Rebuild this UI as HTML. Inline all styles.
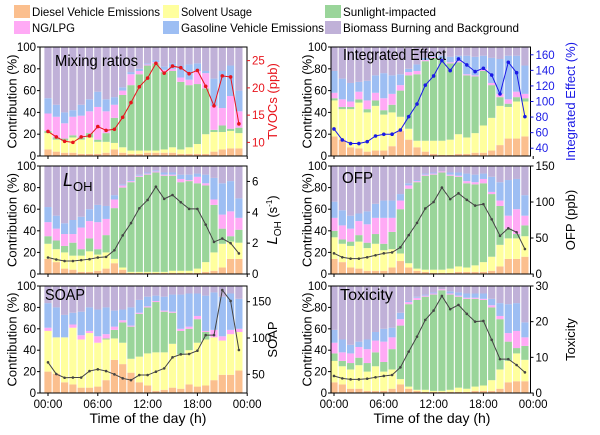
<!DOCTYPE html>
<html><head><meta charset="utf-8"><style>
body{margin:0;background:#fff}
svg{display:block;font-family:"Liberation Sans",Arial,sans-serif}
</style></head><body>
<svg id="chart" width="600" height="435" viewBox="0 0 600 435">
<g id="legend"></g>
<g id="panels"></g>
</svg>
<script>
const sources = ["Diesel Vehicle Emissions","Solvent Usage","Sunlight-impacted","NG/LPG","Gasoline Vehicle Emissions","Biomass Burning and Background"];
const colors = ["#FBBF8E","#FFFF9E","#9AD59A","#FFAAF5","#9DBEF3","#C0B1D8"];
const hours = [0,1,2,3,4,5,6,7,8,9,10,11,12,13,14,15,16,17,18,19,20,21,22,23];
const xTickLabels = ["00:00","06:00","12:00","18:00","00:00"];
const mixCum = [[6,21,23,39,53],[4,15,17,36,47],[3,14,16,30,40],[3,17,19,36,42],[2,15,17,37,47],[2,17,21,41,52],[2,13,15,45,59],[3,13,21,41,52],[6,12,35,47,54],[3,8,56,60,63],[2,5,65,75,77],[2,5,75,78,80],[3,5,83,84,85],[3,5,85,86,88],[3,6,77,79,82],[3,8,78,80,85],[2,6,68,72,83],[2,8,65,70,84],[2,11,66,78,85],[2,20,62,76,78],[4,22,24,46,71],[6,22,28,44,78],[7,23,25,55,83],[7,21,26,41,60]];
const ieCum = [[18,51,53,58,78],[15,43,45,52,71],[8,43,45,50,67],[7,49,52,59,68],[4,40,43,51,69],[5,46,51,58,74],[5,38,42,53,76],[9,40,47,57,74],[23,36,60,65,75],[15,25,74,77,80],[8,14,75,78,84],[4,14,87,88,90],[2,14,90,91,92],[1,14,88,89,92],[1,15,85,86,91],[2,20,86,87,92],[2,17,74,75,92],[3,21,73,74,91],[3,28,78,80,92],[5,35,65,67,90],[10,46,54,57,89],[16,45,48,52,92],[16,50,54,59,92],[18,50,53,57,83]];
const lohCum = [[14,28,35,48,62],[11,23,31,42,54],[5,20,26,37,47],[4,17,29,37,50],[2,17,23,43,53],[2,21,33,49,60],[3,18,23,48,64],[5,20,36,51,63],[10,14,61,69,73],[4,6,80,82,83],[1,2,85,86,87],[1,2,90,91,92],[1,2,92,93,94],[1,2,94,95,96],[1,2,91,92,94],[1,3,91,92,94],[1,3,85,88,92],[1,3,86,87,92],[1,5,84,90,93],[2,11,82,84,92],[3,20,64,69,89],[6,28,42,55,84],[14,30,35,58,86],[14,29,41,52,70]];
const ofpCum = [[14,34,40,52,67],[11,28,32,45,59],[6,26,30,42,54],[5,30,36,49,56],[3,24,29,46,58],[3,28,37,52,65],[3,22,28,52,68],[6,23,39,52,68],[12,19,60,68,74],[6,10,79,82,84],[3,5,85,86,87],[2,4,91,92,93],[1,4,92,93,94],[1,4,94,95,95],[1,5,91,92,94],[2,7,90,91,94],[2,6,84,86,93],[2,8,83,85,92],[2,11,84,88,93],[3,16,74,76,90],[7,27,63,68,85],[14,33,42,54,87],[14,33,37,60,88],[16,35,45,54,73]];
const soapCum = [[20,58,58,61,84],[18,52,52,52,80],[10,52,52,52,73],[8,61,61,64,75],[5,50,50,54,76],[5,56,56,58,80],[6,47,47,53,78],[12,50,51,55,80],[31,51,59,62,77],[27,47,66,68,78],[19,32,62,63,80],[10,34,74,75,87],[7,37,80,81,90],[2,38,85,86,91],[3,38,76,77,90],[5,46,75,76,92],[4,36,58,60,92],[8,40,60,62,93],[6,47,69,72,93],[7,50,57,58,91],[12,52,52,59,94],[17,49,49,53,90],[17,55,55,59,93],[21,57,57,60,88]];
const toxCum = [[10,30,37,47,59],[8,25,30,38,50],[4,22,28,37,45],[4,26,33,43,48],[2,20,28,41,50],[2,25,38,49,57],[2,20,29,48,60],[4,22,41,52,61],[8,13,63,69,75],[4,6,83,85,86],[2,3,87,89,90],[1,3,90,91,92],[1,2,92,93,94],[1,2,96,97,97],[1,3,92,93,95],[1,5,90,91,94],[1,4,88,89,93],[2,6,88,89,93],[2,7,87,88,93],[2,12,80,82,88],[4,22,69,72,84],[10,30,48,56,83],[11,37,42,58,84],[11,31,44,52,66]];
const tvocs = [12,11,10.2,10,11,11.2,12.9,12.2,12.4,14.6,17.3,20.2,21.8,24.5,22.7,24,23.7,22.6,23.2,20.3,16.7,22.2,22,13.4];
const ieVals = [64.7,50.6,46,46,48.4,55.7,57.9,58,63.4,80.5,96.8,121,132.8,152.5,139.7,154.7,147,138.4,142.7,134,109.7,150.4,137,80.5];
const lohVals = [1.07,0.94,0.84,0.84,0.9,0.96,1.07,1.11,1.54,2.5,3.3,4.26,4.8,5.66,4.87,5.12,4.65,4.22,4.22,3.2,2.08,2.3,2.0,1.33];
const ofpVals = [28.7,23.2,21.3,21.3,23.2,26,28.7,30,37,54,71,91,100,120,104,112,103,95,97,76,53,63.5,58,34.7];
const soapVals = [66.5,50.4,45.3,45.6,45.6,54.5,56.9,54.5,50,44.5,42,49,49,53.6,58.2,73.4,77.5,78,82.5,104,104,166,151,83.5];
const toxVals = [4.77,4.1,3.83,3.83,4.0,4.4,4.77,5.05,7.2,11.6,15.8,20.5,23.1,27.2,23.5,24.7,22.2,20,20.2,14.9,9.5,9.5,7.85,5.8];
const leftTicks = [0,20,40,60,80,100];
const tvocTicks = [10,15,20,25];
const ieTicks = [40,60,80,100,120,140,160];
const lohTicks = [0,2,4,6];
const ofpTicks = [0,50,100,150];
const soapTicks = [50,100,150];
const toxTicks = [0,10,20,30];

const NS="http://www.w3.org/2000/svg";
function mk(tag,attrs,parent,text){const e=document.createElementNS(NS,tag);for(const k in attrs)e.setAttribute(k,attrs[k]);if(text!==undefined)e.textContent=text;parent.appendChild(e);return e;}

const lg=document.getElementById('legend');
const legPos=[[14,5],[163,5],[325,5],[14,21],[163,21],[325,21]];
const legLen=[128,71,93,43,143,176];
[0,1,2,3,4,5].forEach((s,i)=>{
  const g=mk('g',{},lg);
  
  
  const [lx,ly]=legPos[i];
  mk('rect',{x:lx,y:ly,width:16,height:13,fill:colors[s]},g);
  mk('text',{x:lx+18,y:ly+11,'font-size':12,textLength:legLen[i],lengthAdjust:'spacingAndGlyphs',fill:'#000'},g,sources[s]);
});

const panels=[
 {name:'mixing-ratios',title:'Mixing ratios',cum:mixCum,line:tvocs,yr:[7.5,27.5],rt:tvocTicks,rtitle:'TVOCs (ppb)',lc:'#E8141C',ac:'#E8141C',col:0,row:0,tx:55,ty:66,tl:83,big:true},
 {name:'integrated-effect',title:'Integrated Effect',cum:ieCum,line:ieVals,yr:[30,170],rt:ieTicks,rtitle:'Integrated Effect (%)',lc:'#1A1AE6',ac:'#1A1AE6',col:1,row:0,tx:343,ty:60,tl:103,big:true},
 {name:'loh',title:'L',sub:'OH',cum:lohCum,line:lohVals,yr:[0,7],rt:lohTicks,rtitle:'L',rsub:'OH',lc:'#444',ac:'#000',col:0,row:1,tx:63,ty:186},
 {name:'ofp',title:'OFP',cum:ofpCum,line:ofpVals,yr:[0,150],rt:ofpTicks,rtitle:'OFP (ppb)',lc:'#444',ac:'#000',col:1,row:1,tx:342,ty:183,tl:31},
 {name:'soap',title:'SOAP',cum:soapCum,line:soapVals,yr:[24.3,171.6],rt:soapTicks,rtitle:'SOAP',lc:'#444',ac:'#000',col:0,row:2,tx:45,ty:300,tl:40},
 {name:'toxicity',title:'Toxicity',cum:toxCum,line:toxVals,yr:[0,30],rt:toxTicks,rtitle:'Toxicity',lc:'#444',ac:'#000',col:1,row:2,tx:340,ty:300,tl:53}
];
const rowsY=[[47,156],[166,274],[286,393]];
const colsX=[{x0:48,left:40,right:247},{x0:334,left:331,right:530.5}];
const PH=8.3;
const root=document.getElementById('panels');

panels.forEach(p=>{
  const g=mk('g',{},root);
  
  
  const [top,bot]=rowsY[p.row]; const C=colsX[p.col];
  const xs=h=>C.x0+h*PH;
  const yL=v=>bot-(v/100)*(bot-top);
  const yR=v=>bot-(v-p.yr[0])/(p.yr[1]-p.yr[0])*(bot-top);
  hours.forEach((h,i)=>{
    const c=p.cum[i]; const b=[0,...c,100];
    for(let s=0;s<6;s++){
      const r=mk('rect',{x:xs(h)-3.6,y:yL(b[s+1]),width:7.2,height:Math.max(0,yL(b[s])-yL(b[s+1])),fill:colors[s]},g);
      
      
    }
  });
  mk('rect',{x:C.left,y:top,width:C.right-C.left,height:bot-top,fill:'none',stroke:'#000','stroke-width':1},g);
  leftTicks.forEach(t=>{
    mk('line',{x1:C.left,x2:C.left-3,y1:yL(t),y2:yL(t),stroke:'#000'},g);
    mk('text',{x:C.left-4,y:yL(t)+4,'font-size':11.5,'text-anchor':'end'},g,String(t));
  });
  p.rt.forEach(t=>{
    mk('line',{x1:C.right,x2:C.right+3,y1:yR(t),y2:yR(t),stroke:p.ac},g);
    mk('text',{x:C.right+5,y:yR(t)+4,'font-size':11.5,fill:p.ac},g,String(t));
  });
  [0,6,12,18,24].forEach((h,i)=>{
    mk('line',{x1:xs(h),x2:xs(h),y1:bot,y2:bot+3,stroke:'#000'},g);
    if(p.row===2) mk('text',{x:xs(h),y:bot+15,'font-size':11.5,'text-anchor':'middle'},g,xTickLabels[i]);
  });
  const lx=p.col===0?12:307; const cy=(top+bot)/2;
  mk('text',{x:lx,y:cy,'font-size':13,'text-anchor':'middle',dy:4.5,transform:`rotate(-90 ${lx} ${cy})`},g,'Contribution (%)');
  const rx=p.col===0?272:570;
  const rt=mk('text',{x:rx,y:cy,'font-size':13,'text-anchor':'middle',fill:p.ac,transform:`rotate(-90 ${rx} ${cy})`,dy:5},g);
  if(p.rsub){
    mk('tspan',{'font-style':'italic','font-size':15},rt,'L');
    mk('tspan',{'font-size':10,dy:4},rt,'OH');
    mk('tspan',{'font-size':13,dy:-4},rt,' (s');
    mk('tspan',{'font-size':8,dy:-5},rt,'-1');
    mk('tspan',{'font-size':13,dy:5},rt,')');
  } else rt.textContent=p.rtitle;
  const pts=hours.map((h,i)=>xs(h)+','+yR(p.line[i])).join(' ');
  const pl=mk('polyline',{points:pts,fill:'none',stroke:p.lc,'stroke-width':1},g);
  
  
  hours.forEach((h,i)=>{
    const d=mk('circle',{cx:xs(h),cy:yR(p.line[i]),r:p.big?1.8:1.3,fill:p.lc},g);
    
    
  });
  const t=mk('text',{x:p.tx,y:p.ty,'font-size':16},g);
  
  
  if(p.sub){mk('tspan',{'font-style':'italic','font-size':18},t,'L');mk('tspan',{'font-size':13,dy:5},t,'OH');}
  else {t.textContent=p.title;t.setAttribute('textLength',p.tl);t.setAttribute('lengthAdjust','spacingAndGlyphs');}
});
const xt1=mk('text',{x:148,y:423,'font-size':14,'text-anchor':'middle'},root,'Time of the day (h)');


const xt2=mk('text',{x:432,y:423,'font-size':14,'text-anchor':'middle'},root,'Time of the day (h)');


</script>
</body></html>
